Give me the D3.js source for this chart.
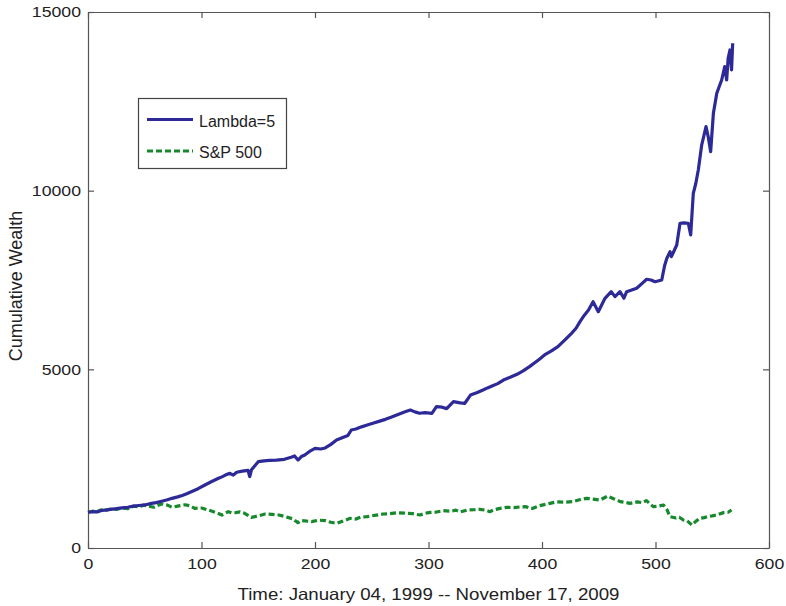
<!DOCTYPE html>
<html>
<head>
<meta charset="utf-8">
<script src="https://cdn.jsdelivr.net/npm/d3@7"></script>
<style>
  html, body { margin: 0; padding: 0; background: #fff; }
  svg { display: block; font-family: "Liberation Sans", Arial, Helvetica, sans-serif; }
</style>
</head>
<body>
<svg id="chart" width="786" height="606"></svg>
<script>
// Weekly cumulative wealth, starting from 1000
const lambdaX = [0,5,8,12,15,20,25,30,35,40,45,50,56,60,65,70,74,79,83,87,91,97,103,109,115,118,121,125,128,131,136,141,142.5,144,147,150,155,160,166,173,179,182,185,188,191,196,200,205,209,214,219,225,229,232,236,241,246,251,257,262,267,272,276,280,284,288,292,297,303,307,312,316,322,328,332,337,343,348,352,357,361,366,372,378,383,389,393,398,403,408,414,420,426,430,433.5,437,441,445,449.6,455.5,461,464.3,468.7,472.2,474.6,479,483.4,488,492.2,496,499.6,505.5,508,510,512.8,514,518.7,521.6,525,528.9,531,533.3,535.5,537.7,540.7,544.5,546.5,548.6,551,554,556,558.3,561,562.7,564,565.6,567,568];
const lambdaY = [1000,1020,1010,1050,1060,1080,1100,1125,1140,1170,1190,1205,1250,1270,1310,1350,1390,1430,1470,1520,1576,1660,1763,1860,1950,1990,2040,2090,2040,2120,2150,2170,2000,2190,2300,2415,2440,2450,2460,2482,2540,2575,2460,2560,2603,2720,2790,2770,2800,2900,3022,3100,3150,3302,3330,3390,3440,3489,3550,3600,3660,3722,3770,3820,3862,3810,3770,3790,3770,3955,3940,3900,4095,4060,4050,4280,4350,4420,4480,4550,4600,4700,4780,4860,4950,5075,5170,5290,5420,5510,5634,5820,6008,6150,6334,6500,6661,6893,6614,6987,7174,7035,7174,6990,7174,7220,7268,7400,7520,7500,7453,7500,7900,8107,8292,8152,8480,9087,9100,9087,8760,9927,10200,10578,11278,11791,11500,11091,12165,12725,12900,13097,13470,13097,13700,13937,13377,14124];

const spX = [0,4,8,12,15,20,25,30,35,40,45,49,53,58,62,65,70,74,80,85.5,90,94,100,106,112,118,123.6,127,130,134,138,144,150,156,162,168,174,180,185,188,191,197,203,209,214,219,225,231,236,240,246,250,254,260,266,272,279,286,292.5,296,300,306,313,320,324,328,334,340,345,350,354,358,363,369,375,381,386,389,392,396,400,407,413,420,427,433,439,445,451,458,463,469,473,477.5,484,488,492,498,502,507,510,512.8,518,521,524.5,528,532,536,539,543,546,550,554,560,564,567];
const spY = [1000,1030,1020,1070,1050,1090,1080,1120,1100,1170,1150,1200,1175,1140,1200,1231,1200,1138,1180,1210,1180,1110,1120,1063,1000,923,1016,980,990,1010,970,858,900,951,940,923,877,820,709,770,760,737,780,765,720,690,760,830,810,860,877,900,920,951,960,988,975,960,923,960,990,1000,1045,1030,1060,1008,1063,1070,1083,1060,1017,1070,1110,1139,1130,1150,1157,1110,1110,1160,1200,1250,1290,1280,1297,1350,1390,1370,1343,1455,1380,1297,1280,1250,1290,1270,1325,1157,1170,1203,1080,877,840,860,783,760,643,760,830,850,880,900,923,990,1000,1063];

const xTicks = [0, 100, 200, 300, 400, 500, 600];
const yTicks = [0, 5000, 10000, 15000];

const seriesNames = ["Lambda=5", "S&P 500"];
const xTitle = "Time: January 04, 1999 -- November 17, 2009";
const yTitle = "Cumulative Wealth";

const svg = d3.select("#chart");
const plot = { left: 88, right: 769, top: 12, bottom: 548 };

const x = d3.scaleLinear().domain([0, 600]).range([plot.left, plot.right]);
const y = d3.scaleLinear().domain([0, 15000]).range([plot.bottom, plot.top]);

const axisColor = "#555";
const textColor = "#222";

function styleAxis(g) {
  g.selectAll("path.domain").attr("stroke", axisColor).attr("stroke-width", 1.2);
  g.selectAll(".tick line").attr("stroke", axisColor).attr("stroke-width", 1.2);
  g.selectAll(".tick text")
    .attr("fill", textColor)
    .attr("font-size", 15.5)
    .each(function () {
      // tick numerals are set slightly wide
      const w = this.getComputedTextLength();
      if (w > 0) {
        d3.select(this).attr("textLength", w * 1.14).attr("lengthAdjust", "spacingAndGlyphs");
      }
    });
}

// Bottom and left axes carry labels; top and right only mirror the ticks
svg.append("g")
  .attr("transform", `translate(0,${plot.bottom})`)
  .call(d3.axisBottom(x).tickValues(xTicks).tickSizeInner(-6).tickSizeOuter(0).tickPadding(10).tickFormat(d3.format("d")))
  .call(styleAxis);

svg.append("g")
  .attr("transform", `translate(${plot.left},0)`)
  .call(d3.axisLeft(y).tickValues(yTicks).tickSizeInner(-6).tickSizeOuter(0).tickPadding(7).tickFormat(d3.format("d")))
  .call(styleAxis);

svg.append("g")
  .attr("transform", `translate(0,${plot.top})`)
  .call(d3.axisTop(x).tickValues(xTicks).tickSizeInner(-6).tickSizeOuter(0).tickFormat(""))
  .call(styleAxis);

svg.append("g")
  .attr("transform", `translate(${plot.right},0)`)
  .call(d3.axisRight(y).tickValues(yTicks).tickSizeInner(-6).tickSizeOuter(0).tickFormat(""))
  .call(styleAxis);

// Series lines
const blue = "#2d2a98";
const green = "#16892c";

const line = d3.line().x(d => x(d[0])).y(d => y(d[1]));

const spData = d3.zip(spX, spY);
const lambdaData = d3.zip(lambdaX, lambdaY);

svg.append("path")
  .datum(spData)
  .attr("d", line)
  .attr("fill", "none")
  .attr("stroke", green)
  .attr("stroke-width", 3.2)
  .attr("stroke-dasharray", "6,3")
  .attr("stroke-linejoin", "round");

svg.append("path")
  .datum(lambdaData)
  .attr("d", line)
  .attr("fill", "none")
  .attr("stroke", blue)
  .attr("stroke-width", 3.2)
  .attr("stroke-linejoin", "round");

// Axis titles
svg.append("text")
  .attr("x", (plot.left + plot.right) / 2)
  .attr("y", 600)
  .attr("text-anchor", "middle")
  .attr("font-size", 16.5)
  .attr("fill", textColor)
  .attr("textLength", 382)
  .attr("lengthAdjust", "spacingAndGlyphs")
  .text(xTitle);

svg.append("text")
  .attr("transform", `translate(22,${(plot.top + plot.bottom) / 2 + 6}) rotate(-90)`)
  .attr("text-anchor", "middle")
  .attr("font-size", 18)
  .attr("fill", textColor)
  .text(yTitle);

// Legend
const legend = svg.append("g");
legend.append("rect")
  .attr("x", 138.5).attr("y", 98.5)
  .attr("width", 148).attr("height", 70)
  .attr("fill", "#fff")
  .attr("stroke", "#444")
  .attr("stroke-width", 1.2);

const legendRows = [
  { name: seriesNames[0], color: blue, dash: null, y: 119.5 },
  { name: seriesNames[1], color: green, dash: "6,3", y: 151 }
];

legendRows.forEach(r => {
  legend.append("line")
    .attr("x1", 147).attr("x2", 193)
    .attr("y1", r.y).attr("y2", r.y)
    .attr("stroke", r.color)
    .attr("stroke-width", 3)
    .attr("stroke-dasharray", r.dash);
  legend.append("text")
    .attr("x", 199)
    .attr("y", r.y + 7)
    .attr("font-size", 16)
    .attr("fill", textColor)
    .text(r.name);
});
</script>
</body>
</html>
